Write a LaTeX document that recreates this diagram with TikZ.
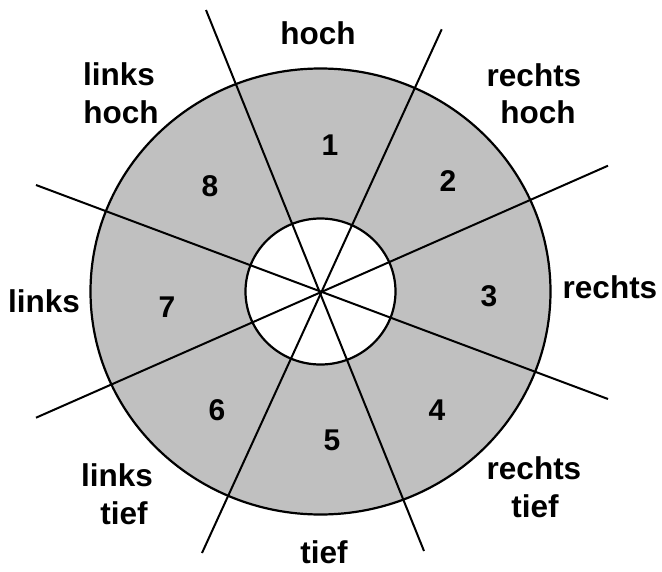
\documentclass[tikz,border=0pt]{standalone}
\usepackage{fontspec}
\setmainfont{Liberation Sans}
\definecolor{sectorgray}{RGB}{192,192,192}
\begin{document}
\begin{tikzpicture}[x=1pt,y=-1pt,
  lbl/.style={font=\fontsize{31.5}{36}\selectfont\bfseries, anchor=base, inner sep=0pt},
  num/.style={font=\fontsize{30}{34}\selectfont\bfseries, inner sep=0pt},
  ray/.style={line width=2pt},
  ring/.style={line width=2.2pt}]
\useasboundingbox (0,0) rectangle (662,571);
\coordinate (c) at (320.5,291.5);
% discs
\fill[sectorgray] (c) ellipse [x radius=230, y radius=223];
\fill[white] (c) ellipse [x radius=75, y radius=73];
% rays
\coordinate (a1) at (206,10);    \coordinate (b1) at (424,551);
\coordinate (a2) at (441.7,29.3);\coordinate (b2) at (202,553);
\coordinate (a3) at (36,185);    \coordinate (b3) at (608,399);
\coordinate (a4) at (36,417.7);  \coordinate (b4) at (608,165.7);
\draw[ray] (a1) -- (b1);
\draw[ray] (a2) -- (b2);
\draw[ray] (a3) -- (b3);
\draw[ray] (a4) -- (b4);
% outlines
\draw[ring] (c) ellipse [x radius=230, y radius=223];
\draw[ring] (c) ellipse [x radius=75, y radius=73];
% sector numbers
\node[num] (n1) at (330,145) {1};
\node[num] (n2) at (448,181) {2};
\node[num] (n3) at (489,296) {3};
\node[num] (n4) at (437,410) {4};
\node[num] (n5) at (332,440) {5};
\node[num] (n6) at (217,410) {6};
\node[num] (n7) at (167,307) {7};
\node[num] (n8) at (210,186) {8};
% direction labels
\node[lbl] (hoch) at (318,44) {hoch};
\node[lbl] (lh1) at (119,85) {links};
\node[lbl] (lh2) at (121,123) {hoch};
\node[lbl] (rh1) at (534,86) {rechts};
\node[lbl] (rh2) at (538,123) {hoch};
\node[lbl] (links) at (44,312) {links};
\node[lbl] (rechts) at (610,298) {rechts};
\node[lbl] (rt1) at (534,479) {rechts};
\node[lbl] (rt2) at (535,517) {tief};
\node[lbl] (lt1) at (117,486) {links};
\node[lbl] (lt2) at (124,524) {tief};
\node[lbl] (tief) at (324,563) {tief};
\end{tikzpicture}
\end{document}
